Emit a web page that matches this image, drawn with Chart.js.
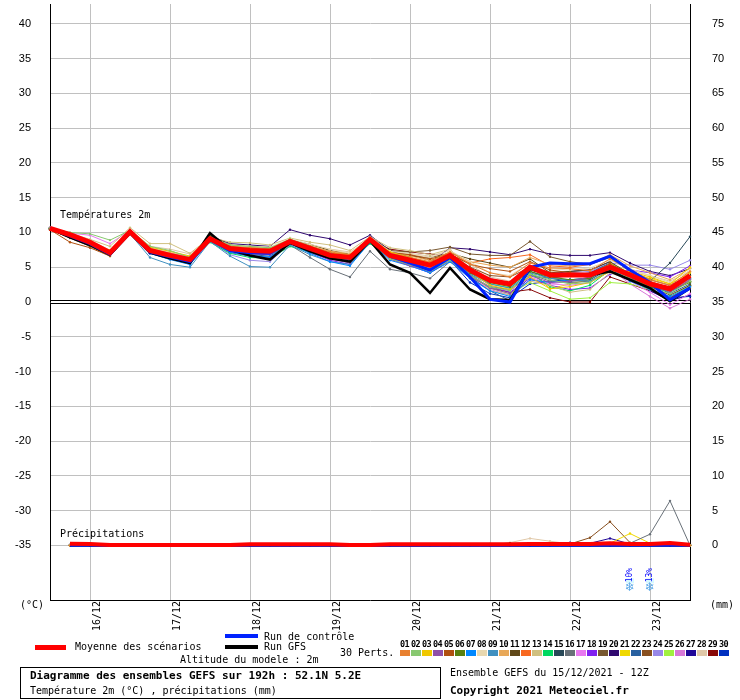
<!DOCTYPE html>
<html>
<head>
<meta charset="utf-8">
<script src="https://cdn.jsdelivr.net/npm/chart.js@4"></script>
<style>
  body { margin: 0; background: #fff; }
  #wrap { position: relative; width: 740px; height: 700px; background: #fff; font-family: "DejaVu Sans Mono", monospace; font-size: 10px; color: #000; }
  #chart { position: absolute; left: 0; top: 0; }
  .t { position: absolute; white-space: nowrap; line-height: 12px; }
  .bar { position: absolute; }
  .b { font-weight: bold; }
</style>
</head>
<body>
<div id="wrap">
  <canvas id="chart" width="740" height="660"></canvas>
  <div class="t" style="left:60px;top:209px">Températures 2m</div>
  <div class="t" style="left:60px;top:528px">Précipitations</div>
  <div class="t" style="left:20px;top:599px">(°C)</div>
  <div class="t" style="left:710px;top:599px">(mm)</div>

  <div class="bar" style="left:35px;top:645px;width:31px;height:5px;background:#ff0000"></div>
  <div class="t" style="left:75px;top:641px">Moyenne des scénarios</div>
  <div class="bar" style="left:225px;top:634px;width:33px;height:4px;background:#0022ff"></div>
  <div class="t" style="left:264px;top:631px">Run de contrôle</div>
  <div class="bar" style="left:225px;top:645px;width:33px;height:4px;background:#000"></div>
  <div class="t" style="left:264px;top:641px">Run GFS</div>
  <div class="t" style="left:180px;top:654px">Altitude du modele : 2m</div>
  <div class="t" style="left:340px;top:647px">30 Perts.</div>
  <div id="perts"></div>

  <div style="position:absolute;left:20px;top:667px;width:419px;height:30px;border:1px solid #000"></div>
  <div class="t b" style="left:30px;top:670px;font-size:11px">Diagramme des ensembles GEFS sur 192h : 52.1N 5.2E</div>
  <div class="t" style="left:30px;top:685px">Température 2m (°C) , précipitations (mm)</div>
  <div class="t" style="left:450px;top:667px">Ensemble GEFS du 15/12/2021 - 12Z</div>
  <div class="t b" style="left:450px;top:685px;font-size:11px">Copyright 2021 Meteociel.fr</div>
</div>
<script>
// time steps (6h) of the 192h run
const times = [
  '15/12 12Z','15/12 18Z',
  '16/12 00Z','16/12 06Z','16/12 12Z','16/12 18Z',
  '17/12 00Z','17/12 06Z','17/12 12Z','17/12 18Z',
  '18/12 00Z','18/12 06Z','18/12 12Z','18/12 18Z',
  '19/12 00Z','19/12 06Z','19/12 12Z','19/12 18Z',
  '20/12 00Z','20/12 06Z','20/12 12Z','20/12 18Z',
  '21/12 00Z','21/12 06Z','21/12 12Z','21/12 18Z',
  '22/12 00Z','22/12 06Z','22/12 12Z','22/12 18Z',
  '23/12 00Z','23/12 06Z','23/12 12Z'
];
const tempTicks = [-35,-30,-25,-20,-15,-10,-5,0,5,10,15,20,25,30,35,40];
const precipTicks = [0,5,10,15,20,25,30,35,40,45,50,55,60,65,70,75];

const pertNames = ['01','02','03','04','05','06','07','08','09','10','11','12','13','14','15',
                   '16','17','18','19','20','21','22','23','24','25','26','27','28','29','30'];
const pertColors = ['#e88030','#88c870','#f0c800','#9050a8','#b05010','#588010','#0088ff','#e8d8b0','#4090c0','#e8a858',
                    '#604818','#f86820','#d0c080','#00d860','#284858','#687078','#e878f0','#8020f0','#785830','#300870',
                    '#f0d800','#2860a0','#885020','#9888e8','#a0f040','#d878d8','#200898','#e0c8a8','#880808','#0030c0'];

// temperature 2m (°C)
const tempMean = [10.6,9.7,8.6,7.1,10.1,7.4,6.7,6.1,9.1,7.7,7.4,7.3,8.7,7.7,6.7,6.4,9.0,6.7,6.0,5.3,6.7,4.6,3.1,2.6,5.0,3.9,3.9,3.9,5.0,3.9,2.6,1.9,3.8];
const tempCtrl = [10.6,9.5,8.4,6.9,10.0,7.2,6.5,5.8,9.0,7.4,7.1,7.0,8.8,7.6,6.8,6.3,9.1,6.6,5.6,4.6,6.4,3.6,0.4,0.0,5.0,5.6,5.5,5.5,6.6,4.6,2.8,0.3,2.0];
const tempGfs  = [10.6,9.3,8.2,6.8,9.9,7.1,6.3,5.6,9.9,7.5,6.7,6.1,8.5,7.3,6.3,5.8,8.8,5.4,4.2,1.3,4.9,1.8,0.4,0.3,4.8,3.8,3.8,3.9,4.4,3.2,2.0,0.1,2.0];
const t01 = [10.5,9.6,8.4,7.0,10.0,7.6,7.0,6.2,9.2,7.9,7.8,7.6,8.9,8.0,7.2,6.8,9.1,7.0,6.4,5.8,7.2,5.5,4.2,3.6,5.6,4.9,4.8,4.5,6.2,4.6,3.2,2.4,4.4];
const t02 = [10.6,10.0,9.8,8.9,10.3,8.0,7.4,6.4,9.3,8.2,8.0,7.8,9.0,7.8,6.8,6.2,8.8,6.2,5.4,4.4,6.0,3.8,2.2,1.6,4.0,3.2,2.6,2.8,4.8,3.4,2.0,1.2,3.0];
const t03 = [10.5,9.5,8.5,7.4,10.2,7.9,7.3,6.6,9.2,8.0,7.6,7.5,9.0,7.8,7.0,6.8,9.2,7.2,6.4,5.6,7.0,4.4,2.4,1.8,3.6,1.9,2.2,2.8,4.4,4.4,3.6,2.6,5.0];
const t04 = [10.7,9.8,8.6,7.2,10.0,7.2,6.4,5.8,9.0,7.4,7.0,6.8,8.6,7.4,6.2,5.6,8.8,6.2,5.2,4.6,6.2,3.8,2.0,1.2,3.8,2.8,3.0,3.6,5.0,3.6,2.4,1.4,3.2];
const t05 = [10.4,8.6,7.8,6.6,9.9,7.2,6.6,5.9,9.3,7.6,7.2,7.0,8.8,7.8,7.0,6.6,9.2,7.1,6.8,6.2,6.9,5.4,4.8,4.4,5.8,4.6,4.2,4.0,5.5,3.8,2.6,1.6,3.0];
const t06 = [10.6,9.4,8.3,6.8,9.9,7.3,6.5,5.9,9.4,7.9,7.7,7.6,9.0,8.0,7.1,6.6,9.2,6.8,6.1,5.2,6.6,4.2,2.8,2.2,4.4,3.6,3.2,3.4,5.2,3.4,2.2,1.6,2.8];
const t07 = [10.6,9.7,8.6,7.0,10.0,7.0,6.1,5.4,8.8,7.2,6.6,6.5,8.4,7.0,5.8,5.2,8.6,6.0,5.2,4.2,5.8,3.4,1.6,0.8,3.2,2.8,3.2,3.4,5.0,3.0,1.8,0.8,2.2];
const t08 = [10.5,9.7,8.8,7.5,10.3,7.9,7.2,6.6,9.3,8.2,8.0,7.9,9.1,8.3,7.6,7.0,9.3,7.3,6.9,6.4,7.4,5.8,4.2,3.8,5.6,4.8,4.6,4.9,6.0,4.8,3.8,2.8,4.6];
const t09 = [10.6,9.6,8.4,6.9,9.8,6.4,5.4,5.0,8.7,6.6,5.1,5.0,8.2,6.8,5.8,5.4,8.7,6.4,5.6,4.6,6.3,4.0,2.6,2.0,4.2,3.4,3.2,3.0,4.6,3.6,2.6,1.8,3.4];
const t10 = [10.6,9.8,8.8,7.2,10.2,7.8,7.2,6.4,9.2,8.1,7.9,7.7,9.0,8.1,7.3,7.0,9.1,7.2,6.6,6.0,7.2,5.8,5.3,5.0,6.4,5.4,5.2,5.4,6.8,5.2,4.2,3.2,4.8];
const t11 = [10.4,9.2,8.0,6.6,9.9,7.3,6.8,6.2,9.6,8.2,7.8,7.6,8.9,8.3,7.4,6.9,9.0,6.9,6.6,6.4,7.0,6.2,5.6,5.0,6.2,4.2,4.4,4.6,5.8,4.0,2.2,1.0,2.4];
const t12 = [10.5,9.6,8.5,7.2,10.1,7.6,6.9,6.3,9.2,7.8,7.5,7.4,8.8,7.9,7.0,6.8,9.0,6.9,6.2,5.7,6.8,5.6,6.2,6.4,6.8,5.2,5.0,5.4,6.8,4.6,3.0,2.0,3.6];
const t13 = [10.7,9.9,9.0,8.0,10.7,8.4,8.4,7.0,9.3,8.6,8.5,8.2,9.2,8.6,8.2,7.4,9.4,7.8,7.4,6.8,7.6,4.8,1.6,1.0,3.0,2.4,1.4,1.8,4.2,3.2,2.4,1.6,3.2];
const t14 = [10.6,9.7,8.7,7.3,10.0,7.3,6.6,5.8,8.6,7.0,6.4,6.3,8.0,7.2,6.4,5.8,8.4,6.4,5.8,4.4,6.2,4.2,2.6,2.0,4.2,2.2,1.6,2.4,4.6,3.2,2.2,1.4,3.0];
const t15 = [10.5,9.5,8.4,7.0,10.0,7.4,6.6,5.8,9.0,7.4,7.2,7.0,8.5,7.4,6.5,5.8,8.6,6.4,5.8,5.3,6.6,4.4,3.0,2.6,4.4,3.4,3.0,3.2,4.8,3.6,3.0,5.6,9.4];
const t16 = [10.6,9.5,8.5,7.0,9.9,7.5,6.8,6.1,8.9,7.3,6.9,6.8,8.2,6.4,4.7,3.6,7.3,4.7,4.2,3.4,5.8,3.6,2.2,1.8,4.0,3.0,2.8,3.0,4.4,3.2,2.4,1.8,3.2];
const t17 = [10.7,9.9,9.6,8.4,10.3,7.9,7.1,6.3,9.2,7.9,7.6,7.4,8.8,7.8,6.9,6.4,8.9,6.5,5.8,4.8,6.2,4.2,2.4,1.6,3.6,2.6,2.4,2.8,4.4,3.0,1.4,-0.4,1.2];
const t18 = [10.6,9.6,8.5,6.9,9.9,7.0,6.2,5.6,8.8,7.1,6.6,6.4,8.4,7.2,6.0,5.4,8.6,6.2,5.2,4.2,6.0,3.8,2.2,1.4,3.4,2.4,1.8,2.0,4.0,4.6,4.2,3.6,5.2];
const t19 = [10.4,9.3,8.2,6.8,10.0,7.6,7.0,6.4,9.4,8.0,7.6,7.4,8.8,7.8,7.0,6.8,9.3,7.4,7.2,7.4,7.9,6.9,6.7,6.7,8.7,6.5,5.8,5.4,6.4,4.4,3.2,2.4,3.8];
const t20 = [10.6,9.8,8.8,7.2,10.0,7.6,6.8,6.0,9.5,8.4,8.2,8.0,10.4,9.6,9.1,8.2,9.6,7.4,6.4,5.6,7.8,7.6,7.2,6.8,7.6,6.9,6.7,6.7,7.1,5.6,4.4,3.8,4.8];
const t21 = [10.5,9.6,8.6,7.1,10.1,7.6,7.0,6.3,9.1,7.8,7.4,7.3,8.6,7.6,6.6,6.2,8.9,6.6,5.8,5.0,6.6,4.4,2.8,2.2,4.6,1.9,2.6,3.2,5.6,4.2,3.4,2.6,4.2];
const t22 = [10.6,9.6,8.5,7.0,10.0,7.4,6.5,5.8,8.9,7.2,6.8,6.6,8.4,7.4,6.4,6.0,8.8,6.4,5.5,4.4,6.4,3.6,1.6,0.2,3.8,3.4,3.8,4.2,5.6,3.8,2.6,1.2,2.6];
const t23 = [10.5,9.5,8.4,7.0,10.0,7.5,7.0,6.4,9.3,7.9,7.6,7.4,8.9,7.9,7.0,6.8,9.1,7.2,6.8,6.0,6.8,5.0,3.8,3.6,5.0,4.0,3.8,3.6,5.2,3.4,1.8,0.6,2.0];
const t24 = [10.6,9.8,8.8,7.4,10.1,7.2,6.2,5.4,8.8,6.8,6.0,5.8,8.4,7.0,6.2,5.8,8.8,6.6,6.0,5.0,6.4,4.6,3.4,2.6,4.6,4.0,4.2,4.4,5.6,5.3,5.3,4.7,6.0];
const t25 = [10.6,9.7,8.6,7.2,10.2,7.8,7.2,6.5,9.3,8.0,7.7,7.6,9.0,8.0,7.0,6.6,9.1,6.8,6.0,5.0,6.8,4.0,2.0,1.2,2.8,1.6,0.4,0.6,2.8,2.6,1.8,0.8,2.4];
const t26 = [10.6,9.8,8.8,7.3,10.1,7.6,6.9,6.2,9.1,7.7,7.4,7.2,8.6,7.6,6.6,6.2,8.8,6.4,5.6,4.6,6.0,3.6,1.8,1.0,3.2,2.6,3.0,3.4,4.8,2.6,0.8,-0.9,0.4];
const t27 = [10.5,9.4,8.3,6.8,9.8,7.0,6.2,5.6,8.8,7.3,7.0,6.9,8.4,7.4,6.6,6.2,8.8,6.5,5.8,5.0,6.6,4.4,3.0,2.4,4.6,4.0,4.4,4.6,5.8,3.6,1.6,0.2,1.0];
const t28 = [10.6,9.6,8.6,7.2,10.4,8.0,7.6,6.9,9.0,8.2,7.9,7.8,8.8,8.2,7.6,7.2,9.0,7.4,7.0,6.6,7.4,5.4,3.6,3.0,4.8,4.4,4.4,4.6,5.4,4.6,3.8,3.0,4.4];
const t29 = [10.5,9.6,8.5,7.0,10.0,7.5,6.8,6.2,9.0,7.6,7.2,7.1,8.6,7.6,6.8,6.5,8.9,7.6,7.2,6.9,6.6,4.0,2.0,1.4,1.8,0.6,0.0,0.0,3.6,2.6,1.6,0.6,2.2];
const t30 = [10.6,9.7,8.5,7.1,10.0,7.2,6.4,5.8,8.9,7.3,7.0,6.9,8.6,7.4,6.5,6.0,8.8,6.2,5.4,4.2,6.0,2.8,1.2,0.6,2.6,3.0,3.2,3.4,5.0,3.6,2.4,0.6,0.8];

// precipitation (mm per 6h), nothing at the first step
const precipMean = [null, 0.25,0.2,0.05,0.05, 0.05,0.05,0.05,0.05, 0.05,0.15,0.15,0.15, 0.15,0.15,0.05,0.05, 0.15,0.15,0.15,0.15, 0.15,0.15,0.15,0.2, 0.2,0.2,0.2,0.3, 0.2,0.2,0.35,0.1];
const precipCtrl = [null, 0,0,0,0, 0,0,0,0, 0,0,0,0, 0,0,0,0, 0,0,0,0, 0,0,0,0, 0,0,0,0, 0,0,0,0];
const precipGfs  = [null, 0,0,0,0, 0,0,0,0, 0,0,0,0, 0,0,0,0, 0,0,0,0, 0,0,0,0, 0,0,0,0, 0,0,0,0];
const p01 = [null, 0,0,0,0, 0,0,0,0, 0,0,0,0, 0,0,0,0, 0,0,0,0, 0,0,0.1,0.1, 0,0,0,0.1, 0,0,0,0];
const p02 = [null, 0.1,0,0,0, 0,0,0,0, 0,0,0,0, 0,0,0,0, 0,0,0,0, 0,0,0,0, 0,0,0,0, 0,0,0,0];
const p03 = [null, 0,0,0,0, 0,0,0,0, 0,0,0,0, 0,0,0,0, 0,0,0,0, 0,0,0,0, 0,0.1,0,0, 0,0,0.1,0];
const p04 = [null, 0,0,0,0, 0,0,0,0, 0,0,0,0, 0,0,0,0, 0,0,0,0, 0,0,0,0, 0,0,0,0, 0,0,0,0];
const p05 = [null, 0,0,0,0, 0,0,0,0, 0,0,0,0, 0,0,0,0, 0,0,0,0, 0,0.1,0.2,0, 0,0,0,0, 0,0,0,0];
const p06 = [null, 0,0,0,0, 0,0,0,0, 0,0,0,0, 0,0,0,0, 0,0,0,0, 0,0,0,0, 0,0,0.1,0, 0,0,0,0];
const p07 = [null, 0,0,0,0, 0,0,0,0, 0,0,0,0, 0,0,0,0, 0,0,0,0, 0,0,0,0, 0,0,0,0, 0,0,0,0];
const p08 = [null, 0,0,0,0, 0,0,0,0, 0,0,0,0, 0,0,0,0, 0,0,0,0, 0,0,0,0.1, 0,0,0,0, 0,0,0,0];
const p09 = [null, 0,0,0,0, 0,0,0,0, 0,0,0,0, 0,0,0,0, 0,0,0,0, 0,0,0,0, 0,0,0,0, 0,0.1,0,0];
const p10 = [null, 0,0,0,0, 0,0,0,0, 0,0,0,0, 0,0,0,0, 0,0,0,0, 0,0,0,0, 0,0,0,0, 0,0,0,0];
const p11 = [null, 0,0,0,0, 0,0,0,0, 0,0,0,0, 0,0,0,0, 0,0,0,0, 0,0.2,0.3,0, 0,0,0,0, 0,0,0,0];
const p12 = [null, 0,0,0,0, 0,0,0,0, 0,0,0,0, 0,0,0,0, 0,0,0,0, 0,0,0,0, 0.3,0.3,0,0, 0,0,0,0];
const p13 = [null, 0,0,0,0, 0,0,0,0, 0,0,0,0, 0,0,0,0, 0,0,0,0, 0,0,0,0, 0,0,0,0, 0,0,0,0];
const p14 = [null, 0,0,0,0, 0,0,0,0, 0,0,0,0, 0,0,0,0, 0,0,0,0, 0,0,0,0, 0,0,0,0, 0,0,0,0];
const p15 = [null, 0,0,0,0, 0,0,0,0, 0,0,0,0, 0,0,0,0, 0,0,0,0, 0,0,0,0, 0,0,0,0, 0,0,0.1,0];
const p16 = [null, 0,0,0,0, 0,0,0,0, 0,0,0,0, 0,0,0,0, 0,0,0,0, 0,0,0,0, 0,0,0,0, 0.3,1.6,6.4,0];
const p17 = [null, 0.1,0,0,0, 0,0,0,0, 0,0,0,0, 0,0,0,0, 0,0,0,0, 0,0,0,0, 0,0,0,0, 0,0,0,0];
const p18 = [null, 0,0,0,0, 0,0,0,0, 0,0,0,0, 0,0,0,0, 0,0,0,0, 0,0,0,0, 0,0,0,0, 0,0,0,0];
const p19 = [null, 0,0,0,0, 0,0,0,0, 0,0,0,0, 0,0,0,0, 0,0,0,0, 0,0.1,0.2,0.1, 0,0,0,0, 0,0,0,0];
const p20 = [null, 0,0,0,0, 0,0,0,0, 0,0,0,0, 0,0,0,0, 0,0,0,0, 0,0,0,0, 0,0.1,0.2,0, 0,0,0,0];
const p21 = [null, 0,0,0,0, 0,0,0,0, 0,0,0,0, 0,0,0,0, 0,0,0,0, 0,0,0,0, 0,0,0,0.3, 1.7,0.3,0,0];
const p22 = [null, 0,0,0,0, 0,0,0,0, 0,0,0,0, 0,0,0,0, 0,0,0,0, 0,0,0,0, 0,0,0,0, 0,0,0,0];
const p23 = [null, 0,0,0,0, 0,0,0,0, 0,0,0,0, 0,0,0,0, 0,0,0,0, 0,0,0,0, 0,0.2,1.1,3.4, 0.4,0,0,0];
const p24 = [null, 0,0,0,0, 0,0,0,0, 0,0,0,0, 0,0,0,0, 0,0,0,0, 0,0,0,0, 0,0,0,0, 0,0,0,0];
const p25 = [null, 0,0,0,0, 0,0,0,0, 0,0,0,0, 0,0,0,0, 0,0,0,0, 0,0,0,0, 0,0,0,0, 0,0,0,0];
const p26 = [null, 0.1,0,0,0, 0,0,0,0, 0,0,0,0, 0,0,0,0, 0,0,0,0, 0,0,0,0, 0,0,0,0, 0,0,0,0];
const p27 = [null, 0,0,0,0, 0,0,0,0, 0,0,0,0, 0,0,0,0, 0,0,0,0, 0,0,0,0, 0,0.4,0.3,1.0, 0.2,0,0.2,0];
const p28 = [null, 0,0,0,0, 0,0,0,0, 0,0,0,0, 0,0,0,0, 0,0,0,0, 0,0,0.4,1.0, 0.6,0.2,0,0, 0,0,0,0];
const p29 = [null, 0,0,0,0, 0,0,0,0, 0,0,0,0, 0,0,0,0, 0,0,0,0, 0,0,0,0, 0,0,0,0, 0,0,0,0];
const p30 = [null, 0,0,0,0, 0,0,0,0, 0,0,0,0, 0,0,0,0, 0,0,0,0, 0,0,0,0, 0,0,0,0, 0,0,0,0];

// snow probability markers
const snowSteps = ['22/12 18Z', '23/12 00Z'];
const snowPct = ['10%', '13%'];

const tempPerts = [t01,t02,t03,t04,t05,t06,t07,t08,t09,t10,t11,t12,t13,t14,t15,t16,t17,t18,t19,t20,t21,t22,t23,t24,t25,t26,t27,t28,t29,t30];
const precipPerts = [p01,p02,p03,p04,p05,p06,p07,p08,p09,p10,p11,p12,p13,p14,p15,p16,p17,p18,p19,p20,p21,p22,p23,p24,p25,p26,p27,p28,p29,p30];

// legend swatches for the 30 perturbations
const perts = document.getElementById('perts');
pertNames.forEach(function(name, i) {
    const num = document.createElement('div');
    num.className = 't b';
    num.style.cssText = 'left:' + (400 + i * 11) + 'px;top:638px;font-size:8.5px;letter-spacing:-0.6px;width:11px;';
    num.textContent = name;
    perts.appendChild(num);
    const sw = document.createElement('div');
    sw.className = 'bar';
    sw.style.cssText = 'left:' + (400 + i * 11) + 'px;top:650px;width:10px;height:6px;background:' + pertColors[i];
    perts.appendChild(sw);
});

const datasets = [];
tempPerts.forEach(function(d, i) {
    datasets.push({ data: d, yAxisID: 'y', borderColor: pertColors[i], backgroundColor: pertColors[i],
        borderWidth: 1, pointRadius: 1.2, pointBorderWidth: 0, order: 3 });
});
precipPerts.forEach(function(d, i) {
    datasets.push({ data: d, yAxisID: 'y2', borderColor: pertColors[i], backgroundColor: pertColors[i],
        borderWidth: 1, pointRadius: 1.2, pointBorderWidth: 0, order: 3 });
});
datasets.push({ data: tempGfs, yAxisID: 'y', borderColor: '#000', borderWidth: 2.5, pointRadius: 0, order: 2 });
datasets.push({ data: precipGfs, yAxisID: 'y2', borderColor: '#000', borderWidth: 3, pointRadius: 0, order: 2 });
datasets.push({ data: tempCtrl, yAxisID: 'y', borderColor: '#0022ff', borderWidth: 3, pointRadius: 0, order: 1 });
datasets.push({ data: precipCtrl, yAxisID: 'y2', borderColor: '#0022ff', borderWidth: 3, pointRadius: 0, order: 1 });
datasets.push({ data: tempMean, yAxisID: 'y', borderColor: '#ff0000', borderWidth: 5, pointRadius: 0, order: 0 });
datasets.push({ data: precipMean, yAxisID: 'y2', borderColor: '#ff0000', borderWidth: 4, pointRadius: 0, order: 0 });

const zeroLine = {
    id: 'zeroLine',
    beforeDatasetsDraw(chart) {
        const ctx = chart.ctx, a = chart.chartArea;
        const y0 = Math.round(chart.scales.y.getPixelForValue(0));
        ctx.save();
        ctx.strokeStyle = '#000';
        ctx.lineWidth = 1;
        [y0 - 1.5, y0 + 1.5].forEach(function(y) {
            ctx.beginPath(); ctx.moveTo(a.left, y); ctx.lineTo(a.right, y); ctx.stroke();
        });
        ctx.restore();
    }
};

const snowMarks = {
    id: 'snowMarks',
    afterDraw(chart) {
        const ctx = chart.ctx;
        const y0 = chart.scales.y.getPixelForValue(-35);
        snowSteps.forEach(function(step, i) {
            const x = chart.scales.x.getPixelForValue(times.indexOf(step));
            ctx.save();
            ctx.fillStyle = '#d8f8ff';
            ctx.fillRect(x - 4, y0 + 33, 8, 5);
            ctx.translate(x, y0 + 37);
            ctx.rotate(-Math.PI / 2);
            ctx.fillStyle = '#0000ff';
            ctx.font = '8px "DejaVu Sans Mono"';
            ctx.textBaseline = 'middle';
            ctx.textAlign = 'left';
            ctx.fillText(snowPct[i], 0, 0);
            ctx.restore();
            ctx.save();
            ctx.fillStyle = '#5aa8e8';
            ctx.font = '12px "DejaVu Sans"';
            ctx.textAlign = 'center';
            ctx.textBaseline = 'middle';
            ctx.fillText('\u2744', x, y0 + 43);
            ctx.restore();
        });
    }
};

const tickFont = { family: 'Liberation Sans', size: 11 };

function noPad(s) {
    s.paddingTop = 0; s.paddingBottom = 0; s.paddingLeft = 0; s.paddingRight = 0;
}

new Chart(document.getElementById('chart').getContext('2d'), {
    type: 'line',
    data: { labels: times, datasets: datasets },
    options: {
        responsive: false,
        animation: false,
        devicePixelRatio: 1,
        layout: { padding: 0 },
        elements: { line: { tension: 0 } },
        plugins: { legend: { display: false }, tooltip: { enabled: false } },
        scales: {
            x: {
                offset: false,
                grid: {
                    drawTicks: false,
                    color: function(c) { return times[c.index] && times[c.index].endsWith('00Z') ? '#c0c0c0' : 'rgba(0,0,0,0)'; }
                },
                border: { color: '#000', width: 1 },
                ticks: {
                    autoSkip: false, minRotation: 90, maxRotation: 90, padding: 1, labelOffset: 7,
                    color: '#000', font: { family: 'DejaVu Sans Mono', size: 10 },
                    callback: function(v, i) { return times[i].endsWith('00Z') ? times[i].slice(0, 5) : ''; }
                },
                afterFit: function(s) { s.height = 60; noPad(s); }
            },
            y: {
                position: 'left',
                min: -300 / 7, max: 300 / 7,
                afterBuildTicks: function(s) { s.ticks = tempTicks.map(function(v) { return { value: v }; }); },
                grid: {
                    drawTicks: false,
                    color: function(c) { return c.tick && c.tick.value === 0 ? 'rgba(0,0,0,0)' : '#c0c0c0'; }
                },
                border: { color: '#000', width: 1 },
                ticks: { padding: 19, color: '#000', font: tickFont },
                afterFit: function(s) { s.width = 50; noPad(s); }
            },
            y2: {
                position: 'right',
                min: -300 / 7 + 35, max: 300 / 7 + 35,
                afterBuildTicks: function(s) { s.ticks = precipTicks.map(function(v) { return { value: v }; }); },
                grid: { display: false, drawTicks: false },
                border: { color: '#000', width: 1 },
                ticks: { padding: 22, color: '#000', font: tickFont },
                afterFit: function(s) { s.width = 50; noPad(s); }
            }
        }
    },
    plugins: [zeroLine, snowMarks]
});
</script>
</body>
</html>
